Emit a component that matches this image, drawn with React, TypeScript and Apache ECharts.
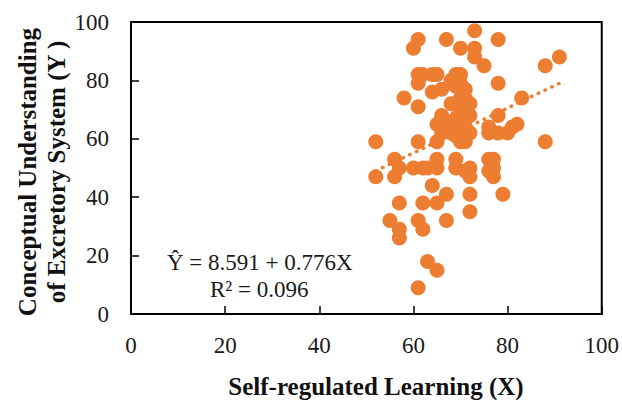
import React, { useEffect, useRef } from "react";
import * as echarts from "echarts";

// Self-regulated Learning (X) scores
const selfRegulated = [
  52, 52, 55, 56, 56, 57, 57, 57, 57, 58,
  60, 61, 60, 61, 61, 61, 61, 61, 61, 62,
  62, 62, 62, 63, 63, 64, 64, 64, 65, 65,
  65, 65, 65, 65, 65, 66, 66, 67, 67, 67,
  67, 68, 68, 68, 69, 69, 69, 69, 69, 70,
  70, 70, 70, 70, 70, 70, 71, 71, 71, 71,
  71, 71, 72, 72, 72, 72, 72, 72, 72, 73,
  73, 73, 75, 76, 76, 76, 76, 77, 77, 77,
  78, 78, 78, 78, 79, 80, 81, 82, 83, 88,
  88, 91, 66, 68, 69,
];
// Conceptual Understanding of Excretory System (Y) scores
const conceptual = [
  59, 47, 32, 53, 47, 50, 38, 29, 26, 74,
  91, 94, 50, 82, 79, 71, 59, 32, 9, 82,
  50, 38, 29, 18, 50, 82, 76, 44, 82, 65,
  59, 53, 50, 38, 15, 77, 68, 94, 41, 32,
  65, 64, 80, 62, 82, 78, 53, 50, 61, 91,
  82, 79, 74, 59, 66, 70, 77, 74, 69, 64,
  59, 49, 72, 68, 62, 50, 47, 41, 35, 97,
  91, 88, 85, 64, 62, 53, 49, 53, 50, 47,
  94, 79, 68, 62, 41, 62, 64, 65, 74, 85,
  59, 88, 62, 72, 67,
];
// Linear trend line end points
const trendX = [52, 91];
const trendY = [49, 79];
const axisTicks = [0, 20, 40, 60, 80, 100];

const xTitle = "Self-regulated Learning (X)";
const yTitle = ["Conceptual Understanding", "of Excretory System (Y )"];
const equationText = "Ŷ = 8.591 + 0.776X";
const r2Text = "R² = 0.096";

const FONT = "'Liberation Serif', 'DejaVu Serif', serif";
const ORANGE = "#ED7D31";

export default function App() {
  const ref = useRef<HTMLDivElement>(null);

  useEffect(() => {
    if (!ref.current) return;
    const chart = echarts.init(ref.current, undefined, { renderer: "svg" });
    const points = selfRegulated.map((x, i) => [x, conceptual[i]]);
    const trend = trendX.map((x, i) => [x, trendY[i]]);
    const axisCommon = {
      type: "value" as const,
      min: axisTicks[0],
      max: axisTicks[axisTicks.length - 1],
      interval: 20,
      axisLine: { show: true, onZero: false, lineStyle: { color: "#000", width: 2 } },
      axisTick: { show: true, inside: true, length: 8, lineStyle: { color: "#000", width: 1.5 } },
      splitLine: { show: false },
    };
    chart.setOption({
      animation: false,
      backgroundColor: "#fff",
      grid: {
        left: 131,
        right: 20,
        top: 22,
        bottom: 86,
        show: true,
        borderColor: "#000",
        borderWidth: 2,
      },
      xAxis: {
        ...axisCommon,
        axisLabel: { fontFamily: FONT, fontSize: 23, color: "#1a1a1a", margin: 20 },
      },
      yAxis: {
        ...axisCommon,
        axisLabel: { fontFamily: FONT, fontSize: 23, color: "#1a1a1a", margin: 22 },
      },
      series: [
        {
          type: "scatter",
          data: points,
          symbol: "circle",
          symbolSize: 15,
          itemStyle: { color: ORANGE, opacity: 1 },
          z: 2,
        },
        {
          type: "line",
          data: trend,
          symbol: "none",
          lineStyle: { color: ORANGE, width: 3.5, type: [0.5, 7], cap: "round" },
          z: 3,
        },
      ],
      graphic: [
        {
          type: "text",
          x: 42,
          y: 172,
          rotation: Math.PI / 2,
          style: {
            text: yTitle.join("\n"),
            fontFamily: FONT,
            fontSize: 25,
            fontWeight: "bold",
            fill: "#111",
            textAlign: "center",
            textVerticalAlign: "middle",
            lineHeight: 29,
          },
        },
        {
          type: "text",
          x: 376,
          y: 386,
          style: {
            text: xTitle,
            fontFamily: FONT,
            fontSize: 25,
            fontWeight: "bold",
            fill: "#111",
            textAlign: "center",
            textVerticalAlign: "middle",
          },
        },
        {
          type: "text",
          x: 167,
          y: 262,
          style: {
            text: equationText,
            fontFamily: FONT,
            fontSize: 23,
            fill: "#1a1a1a",
            textAlign: "left",
            textVerticalAlign: "middle",
          },
        },
        {
          type: "text",
          x: 210,
          y: 289,
          style: {
            text: r2Text,
            fontFamily: FONT,
            fontSize: 23,
            fill: "#1a1a1a",
            textAlign: "left",
            textVerticalAlign: "middle",
          },
        },
      ],
    });
    return () => chart.dispose();
  }, []);

  return (
    <div
      ref={ref}
      style={{ position: "fixed", left: 0, top: 0, width: 622, height: 400 }}
    />
  );
}
